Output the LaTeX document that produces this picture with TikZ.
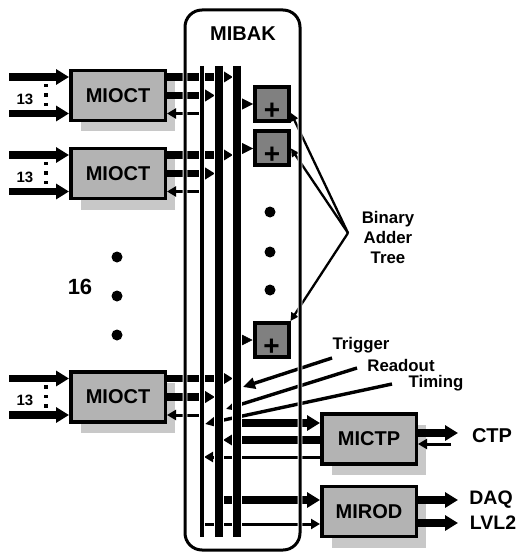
\documentclass[tikz,border=0pt]{standalone}
\usepackage{fontspec}
\setmainfont{Liberation Sans}
\usetikzlibrary{arrows.meta,shadows}
\definecolor{boxgrey}{HTML}{B3B3B3}
\definecolor{shgrey}{HTML}{C8C8C8}
\definecolor{addgrey}{HTML}{808080}
\newcommand\myfs[1]{\fontsize{#1}{20}\selectfont\bfseries}
\begin{document}
\begin{tikzpicture}[x=1pt,y=-1pt,
  modbox/.style={draw, line width=3.5pt, fill=boxgrey, minimum width=94.5pt, minimum height=50pt, inner sep=0pt, font=\myfs{20},
    drop shadow={shadow xshift=10pt, shadow yshift=-11pt, fill=shgrey, opacity=1}},
  adder/.style={draw, line width=4pt, fill=addgrey, minimum size=34pt, inner sep=0pt,
    label={[font=\myfs{28}, yshift=-7pt]center:+}},
  fat/.style={line width=7.5pt, -{Triangle[length=13pt,width=15pt]}},
  thinar/.style={line width=3pt, -{Triangle[length=9pt,width=10pt]}},
  diag/.style={line width=3.4pt, -{Triangle[length=12pt,width=11pt]}},
  tree/.style={line width=2.3pt, -{Triangle[length=8pt,width=8pt]}},
  headonly/.style={line width=0.5pt, -{Triangle[length=12pt,width=12pt]}},
  dot/.style={circle, fill=black, minimum size=11pt, inner sep=0pt},
  sq/.style={fill=black, minimum size=3.5pt, inner sep=0pt},
  lab/.style={inner sep=0pt, font=\myfs{#1}},
  halo/.style={draw=white, double=black, line width=0.9pt, double distance=#1},
]
\useasboundingbox (0,0) rectangle (518,553);
\fill[white] (0,0) rectangle (518,553);

% bus x positions
\coordinate (lx) at (9,0);
\coordinate (bT) at (202,0);
\coordinate (bTr) at (204,0);
\coordinate (bM) at (219,0);
\coordinate (bMl) at (215,0);
\coordinate (bMr) at (223,0);
\coordinate (bR) at (237,0);
\coordinate (bRl) at (233,0);
\coordinate (bRr) at (241,0);
\coordinate (ox) at (458,0);
\coordinate (cret) at (451,0);

% modules
\node[modbox] (o1) at (118,95.5) {MIOCT};
\node[modbox] (o2) at (118,173.5) {MIOCT};
\node[modbox] (o3) at (118,397) {MIOCT};
\node[modbox] (ctp) at (369,439) {MICTP};
\node[modbox] (rod) at (369,511.5) {MIROD};

% adders
\node[adder] (a1) at (272,104) {};
\node[adder] (a2) at (272,148.5) {};
\node[adder] (a4) at (271.5,340) {};

% labels
\node[lab=20] (mibakt) at (243,34) {MIBAK};
\node[lab=22] (n16) at (80,287) {16};
\node[lab=16.8, align=center] (bat) at (388,237) {Binary\\Adder\\Tree};
\node[lab=16.8] (trig) at (361,345) {Trigger};
\node[lab=16.8] (rdo) at (401,365) {Readout};
\node[lab=16.8] (tim) at (436,383) {Timing};
\node[lab=20] (ctpl) at (492,436) {CTP};
\node[lab=19.5] (daq) at (491,500) {DAQ};
\node[lab=19.5] (lvl) at (493,523) {LVL2};

% dots
\node[dot] (ld1) at (117,257) {};
\node[dot] (ld2) at (117,296) {};
\node[dot] (ld3) at (117,335) {};
\node[dot] (md1) at (270,212) {};
\node[dot] (md2) at (270,252) {};
\node[dot] (md3) at (270,290) {};

% MIOCT inputs / outputs
\foreach \n in {1,2,3}{
  \node[lab=15] (t\n) at ([xshift=-93pt,yshift=-3.5pt]o\n.center) {13};
  \node[sq] (sa\n) at ([xshift=-72pt,yshift=10pt]o\n.center) {};
  \node[sq] (sb\n) at ([xshift=-72pt,yshift=0.5pt]o\n.center) {};
  \node[sq] (sc\n) at ([xshift=-72pt,yshift=-9pt]o\n.center) {};
  \coordinate (oa\n) at ([yshift=18.5pt]o\n.east);
  \coordinate (ob\n) at (o\n.east);
  \coordinate (oc\n) at ([yshift=-18pt]o\n.east);
  \coordinate (ia\n) at ([yshift=18.5pt]o\n.west);
  \coordinate (ic\n) at ([yshift=-18pt]o\n.west);
  \draw[fat] (ia\n -| lx) -- (ia\n);
  \draw[fat] (ic\n -| lx) -- (ic\n);
  \draw[fat] (oa\n) -- (oa\n -| bRl);
  \draw[fat] (ob\n) -- (ob\n -| bMl);
  \draw[thinar] (oc\n -| bT) -- (oc\n);
}

% adder inputs
\draw[headonly] (a1.west -| bRr) -- (a1.west);
\draw[headonly] (a2.west -| bRr) -- (a2.west);
\draw[headonly] (a4.west -| bRr) -- (a4.west);

% binary adder tree pointers
\coordinate (tv) at (348,233);
\draw[tree] (tv) -- ([yshift=-9pt]a1.east);
\draw[tree] (tv) -- (a2.east);
\draw[tree] (tv) -- (a4.north east);

% trigger / readout / timing
\coordinate (trigS) at (332,358);
\coordinate (trigE) at (243,387);
\coordinate (rdoS) at (357,368);
\coordinate (rdoE) at (226,409);
\coordinate (timS) at (392,384);
\coordinate (timE) at (205,424);
\draw[diag] (trigS) -- (trigE);
\draw[diag] (rdoS) -- (rdoE);
\draw[diag] (timS) -- (timE);

% MICTP
\coordinate (cA) at ([yshift=16pt]ctp.west);
\coordinate (cB) at ([yshift=-1pt]ctp.west);
\coordinate (cC) at ([yshift=-18pt]ctp.west);
\coordinate (cD) at ([yshift=6pt]ctp.east);
\coordinate (cE) at ([yshift=-5pt]ctp.east);
\draw[fat] (cA -| bRr) -- (cA);
\draw[fat] (cB) -- (cB -| bMr);
\draw[thinar] (cC) -- (cC -| bTr);
\draw[fat] (cD) -- (cD -| ox);
\draw[thinar] (cE -| cret) -- (cE);

% MIROD
\coordinate (rA) at ([yshift=11.5pt]rod.west);
\coordinate (rB) at ([yshift=-12.5pt]rod.west);
\coordinate (rC) at ([yshift=11.5pt]rod.east);
\coordinate (rD) at ([yshift=-11.5pt]rod.east);
\draw[fat] (rA -| bM) -- (rA);
\draw[thinar] (rB -| bT) -- (rB);
\draw[fat] (rC) -- (rC -| ox);
\draw[fat] (rD) -- (rD -| ox);

% buses
\draw[halo=3.5pt] (202,66) -- (202,537);
\draw[halo=7.5pt] (219,66) -- (219,537);
\draw[halo=7.5pt] (237,66) -- (237,537);

% MIBAK frame
\node[halo=3pt, rounded corners=17pt, minimum width=115pt, minimum height=540pt, inner sep=0pt] (mibak) at (242.5,280) {};
\end{tikzpicture}
\end{document}
